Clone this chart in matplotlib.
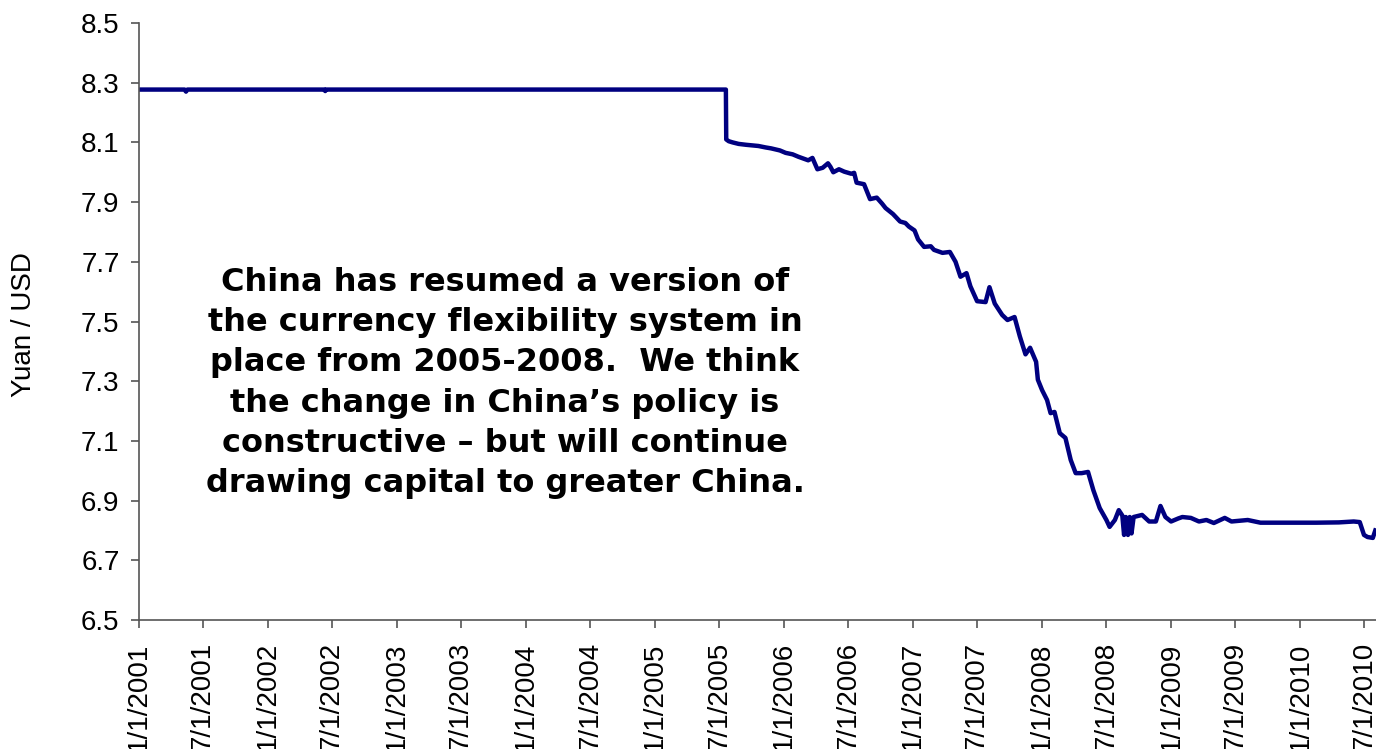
import matplotlib
matplotlib.use("Agg")
import matplotlib.pyplot as plt
import matplotlib.dates as mdates
import pandas as pd

# Yuan per USD
dates = [
    "2001-01-01", "2001-05-10", "2001-05-14", "2001-05-18", "2002-06-10", "2002-06-12",
    "2002-06-14", "2005-07-20", "2005-07-21", "2005-07-28", "2005-08-08", "2005-08-25",
    "2005-09-15", "2005-10-20", "2005-11-10", "2005-11-25", "2005-12-20", "2006-01-05",
    "2006-01-25", "2006-02-10", "2006-03-10", "2006-03-22", "2006-04-05", "2006-04-20",
    "2006-05-05", "2006-05-12", "2006-05-20", "2006-06-05", "2006-06-20", "2006-07-10",
    "2006-07-18", "2006-07-25", "2006-08-15", "2006-09-01", "2006-09-20", "2006-10-05",
    "2006-10-15", "2006-11-05", "2006-11-25", "2006-12-10", "2006-12-20", "2007-01-05",
    "2007-01-15", "2007-02-01", "2007-02-20", "2007-03-01", "2007-03-25", "2007-04-15",
    "2007-05-01", "2007-05-15", "2007-06-01", "2007-06-12", "2007-07-01", "2007-07-25",
    "2007-08-05", "2007-08-20", "2007-09-10", "2007-09-25", "2007-10-15", "2007-10-30",
    "2007-11-15", "2007-11-28", "2007-12-15", "2007-12-20", "2008-01-01", "2008-01-15",
    "2008-01-25", "2008-02-05", "2008-02-20", "2008-03-07", "2008-03-22", "2008-04-05",
    "2008-04-22", "2008-05-10", "2008-05-25", "2008-06-12", "2008-07-01", "2008-07-10",
    "2008-07-25", "2008-08-05", "2008-08-15", "2008-08-20", "2008-08-25", "2008-08-31",
    "2008-09-05", "2008-09-10", "2008-09-16", "2008-10-10", "2008-10-30", "2008-11-18",
    "2008-12-01", "2008-12-15", "2008-12-31", "2009-01-20", "2009-02-01", "2009-02-25",
    "2009-03-20", "2009-04-10", "2009-05-01", "2009-06-01", "2009-06-20", "2009-08-05",
    "2009-09-10", "2009-11-25", "2010-02-15", "2010-04-20", "2010-06-01", "2010-06-18",
    "2010-06-30", "2010-07-10", "2010-07-25", "2010-08-01",
]
yuan = [
    8.277, 8.277, 8.270, 8.277, 8.277, 8.272,
    8.277, 8.277, 8.110, 8.104, 8.100, 8.095,
    8.092, 8.088, 8.083, 8.080, 8.073, 8.065,
    8.060, 8.052, 8.040, 8.048, 8.010, 8.015,
    8.030, 8.018, 8.000, 8.010, 8.002, 7.995,
    7.998, 7.965, 7.960, 7.910, 7.915, 7.895,
    7.880, 7.860, 7.835, 7.830, 7.818, 7.805,
    7.775, 7.750, 7.752, 7.740, 7.730, 7.733,
    7.700, 7.650, 7.662, 7.618, 7.568, 7.565,
    7.615, 7.560, 7.522, 7.505, 7.515, 7.450,
    7.390, 7.412, 7.365, 7.305, 7.270, 7.237,
    7.193, 7.197, 7.126, 7.110, 7.036, 6.992,
    6.992, 6.996, 6.935, 6.875, 6.835, 6.812,
    6.835, 6.868, 6.850, 6.785, 6.845, 6.785,
    6.845, 6.790, 6.845, 6.852, 6.830, 6.830,
    6.882, 6.845, 6.830, 6.840, 6.845, 6.842,
    6.830, 6.835, 6.825, 6.842, 6.830, 6.835,
    6.826, 6.826, 6.826, 6.827, 6.830, 6.828,
    6.785, 6.778, 6.775, 6.800,
]
y_ticks = [6.5, 6.7, 6.9, 7.1, 7.3, 7.5, 7.7, 7.9, 8.1, 8.3, 8.5]

note = ("China has resumed a version of\n"
        "the currency flexibility system in\n"
        "place from 2005-2008.  We think\n"
        "the change in China\u2019s policy is\n"
        "constructive \u2013 but will continue\n"
        "drawing capital to greater China.")

plt.rcParams['font.family'] = ['Liberation Sans', 'DejaVu Sans']

x = pd.to_datetime(dates)

fig = plt.figure(figsize=(13.76, 7.49), dpi=100)
ax = fig.add_axes([139 / 1376, 1 - 620 / 749, 1 - 139 / 1376, (620 - 23) / 749])

ax.plot(x, yuan, color='#000080', lw=3.2, solid_joinstyle='round')

ax.set_xlim(pd.Timestamp("2001-01-01"), pd.Timestamp("2010-08-03"))
ax.set_ylim(6.5, 8.5)
ax.set_yticks(y_ticks)
ax.set_yticklabels([f"{v:.1f}" for v in y_ticks])

ax.xaxis.set_major_locator(mdates.MonthLocator(bymonth=[1, 7]))
ax.xaxis.set_major_formatter(plt.FuncFormatter(
    lambda v, pos: (lambda d: f"{d.month}/{d.day}/{d.year}")(mdates.num2date(v))))
plt.setp(ax.get_xticklabels(), rotation=90)

for s in ['top', 'right']:
    ax.spines[s].set_visible(False)
for s in ['left', 'bottom']:
    ax.spines[s].set_color('#555555')
    ax.spines[s].set_linewidth(1.2)
ax.tick_params(axis='both', direction='out', length=6, width=1.2, color='#555555',
               labelsize=20)
ax.tick_params(axis='y', pad=8)
ax.tick_params(axis='x', pad=10)
ax.set_ylabel('Yuan / USD', fontsize=20)
ax.yaxis.set_label_coords((37 - 139) / 1237, 0.495)

fig.text(505 / 1376, 1 - 383 / 749, note, ha='center', va='center',
         fontsize=23, fontweight='bold', family=['DejaVu Sans'], linespacing=1.38)

fig.savefig('out.png', dpi=100)
